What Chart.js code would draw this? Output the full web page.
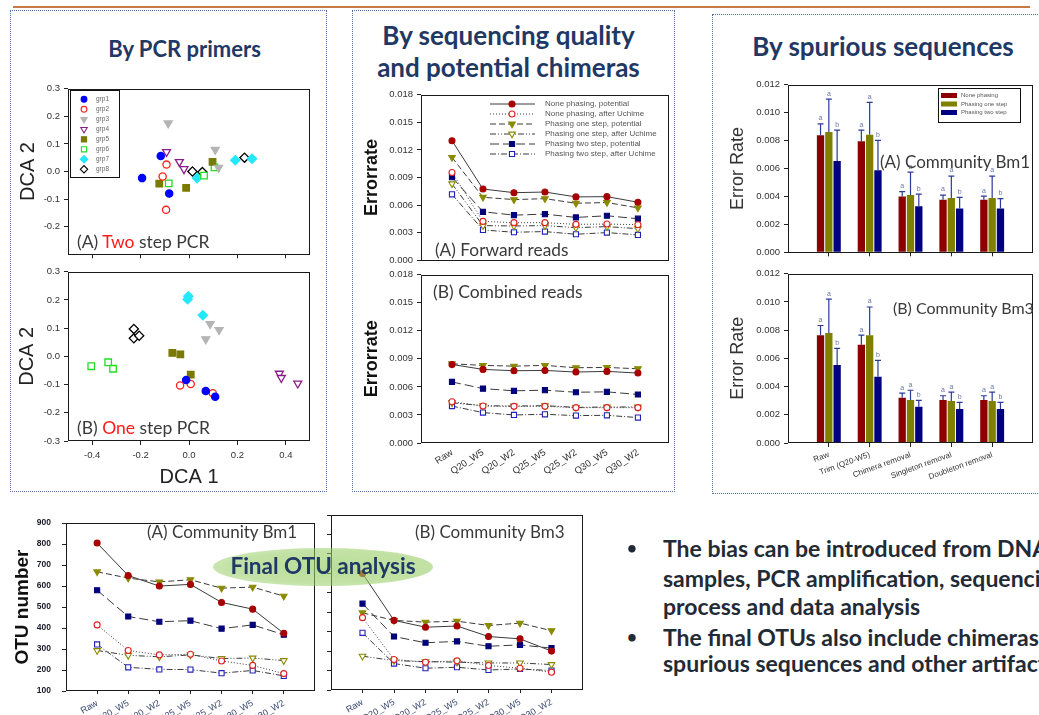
<!DOCTYPE html>
<html><head><meta charset="utf-8">
<script src="https://cdn.jsdelivr.net/npm/chart.js@4.4.1/dist/chart.umd.min.js"></script>
<style>
html,body{margin:0;padding:0;background:#fff;}
body{width:1039px;height:715px;overflow:hidden;position:relative;font-family:Lato,"Open Sans",sans-serif;}
canvas{position:absolute;z-index:1;}
.t{position:absolute;white-space:nowrap;z-index:3;}
.panel{position:absolute;border:1px dotted #4f72a3;z-index:0;}
.title{position:absolute;z-index:3;font-weight:bold;color:#1f3864;text-align:center;white-space:nowrap;}
.ann{position:absolute;z-index:3;white-space:nowrap;color:#3a3a3a;line-height:20px;height:20px;}
.bul{position:absolute;z-index:3;white-space:nowrap;font-weight:bold;color:#222a36;font-size:23px;line-height:28px;height:28px;}
.dot{position:absolute;z-index:3;font-weight:bold;color:#222a36;font-size:17px;line-height:28px;height:28px;}
</style></head><body>
<div style="position:absolute;left:13px;top:6px;width:1017px;height:2px;background:#c77a45;"></div>
<div class="panel" style="left:10px;top:10px;width:315px;height:480px;"></div>
<div class="panel" style="left:352px;top:10px;width:321px;height:480px;"></div>
<div class="panel" style="left:712px;top:14px;width:340px;height:478px;"></div>
<div class="title" style="left:27px;width:315px;top:35px;font-size:22px;line-height:28px;">By PCR primers</div>
<div class="title" style="left:348px;width:321px;top:19px;font-size:26px;line-height:32px;">By sequencing quality<br>and potential chimeras</div>
<div class="title" style="left:712px;width:342px;top:31px;font-size:26px;line-height:30px;">By spurious sequences</div>
<div id="charts"></div>
<div class="ann" style="left:77px;top:232px;font-size:17.5px;">(A) <span style="color:#ff1a1a">Two</span> step PCR</div>
<div class="ann" style="left:77px;top:418px;font-size:17.5px;">(B) <span style="color:#ff1a1a">One</span> step PCR</div>
<div class="ann" style="left:435px;top:240px;font-size:17.3px;">(A) Forward reads</div>
<div class="ann" style="left:433px;top:282px;font-size:17.5px;">(B) Combined reads</div>
<div class="ann" style="left:880px;top:152px;font-size:17px;">(A) Community Bm1</div>
<div class="ann" style="left:893px;top:298px;font-size:16px;">(B) Community Bm3</div>
<div class="ann" style="left:147px;top:522px;font-size:17px;">(A) Community Bm1</div>
<div class="ann" style="left:415px;top:522px;font-size:17px;">(B) Community Bm3</div>
<div style="position:absolute;z-index:2;left:213px;top:548px;width:220px;height:38px;border-radius:50%;background:radial-gradient(ellipse at 55% 50%, rgba(150,205,100,0.66) 0%, rgba(150,205,100,0.58) 60%, rgba(150,205,100,0.32) 100%);"></div>
<div class="t" style="z-index:3;left:213px;width:220px;top:553px;text-align:center;font-weight:bold;font-size:22.5px;line-height:26px;color:#1f3864;">Final OTU analysis</div>
<div class="dot" style="left:627px;top:534px;">•</div>
<div class="bul" style="left:663px;top:534px;">The bias can be introduced from DNA</div>
<div class="bul" style="left:663px;top:564px;">samples, PCR amplification, sequencing</div>
<div class="bul" style="left:663px;top:592px;">process and data analysis</div>
<div class="dot" style="left:627px;top:623px;">•</div>
<div class="bul" style="left:663px;top:623px;">The final OTUs also include chimeras,</div>
<div class="bul" style="left:663px;top:649px;">spurious sequences and other artifacts</div>
<script>
// ================= DATA =================
const dcaGroups = ['grp1','grp2','grp3','grp4','grp5','grp6','grp7','grp8'];
const dcaXTicks = [-0.4,-0.2,0.0,0.2,0.4];
const dcaYTicksA = [0.3,0.2,0.1,0.0,-0.1,-0.2];
const dcaYTicksB = [0.3,0.2,0.1,0.0,-0.1,-0.2,-0.3];
// (A) Two step PCR, one row per group
const twoStepX = [
  [-0.194,-0.117,-0.082],[-0.093,-0.109,-0.095],[-0.086,0.108,0.122],[-0.093,-0.040,-0.021],
  [-0.123,-0.012,0.097],[-0.084,0.062,0.105],[0.033,0.191,0.260],[0.014,0.055,0.229]];
const twoStepY = [
  [-0.024,0.056,-0.080],[0.025,-0.018,-0.139],[0.175,0.079,0.014],[0.071,0.035,0.009],
  [-0.044,-0.059,0.035],[-0.043,-0.015,0.015],[-0.024,0.041,0.046],[0.000,-0.002,0.050]];
// (B) One step PCR
const oneStepX = [
  [-0.012,0.069,0.108],[-0.037,0.007,0.098],[0.087,0.124,0.069],[0.373,0.381,0.449],
  [-0.069,-0.036,0.007],[-0.404,-0.334,-0.314],[-0.003,-0.006,0.057],[-0.228,-0.228,-0.206]];
const oneStepY = [
  [-0.084,-0.123,-0.143],[-0.103,-0.098,-0.131],[0.115,0.094,0.061],[-0.061,-0.076,-0.096],
  [0.012,0.007,-0.065],[-0.035,-0.021,-0.044],[0.213,0.202,0.146],[0.097,0.064,0.073]];

const qualityCats = ['Raw','Q20_W5','Q20_W2','Q25_W5','Q25_W2','Q30_W5','Q30_W2'];
const errSeriesNames = ['None phasing, potential','None phasing, after Uchime','Phasing one step, potential','Phasing one step, after Uchime','Phasing two step, potential','Phasing two step, after Uchime'];
const errTicks = [0,0.003,0.006,0.009,0.012,0.015,0.018];
const fwdNonePot = [0.01300,0.00775,0.00735,0.00742,0.00689,0.00692,0.00631];
const fwdNoneUch = [0.00954,0.00423,0.00409,0.00409,0.00391,0.00394,0.00387];
const fwdOnePot  = [0.01119,0.00685,0.00660,0.00670,0.00620,0.00628,0.00570];
const fwdOneUch  = [0.00832,0.00377,0.00373,0.00377,0.00355,0.00366,0.00344];
const fwdTwoPot  = [0.00904,0.00527,0.00491,0.00502,0.00466,0.00484,0.00452];
const fwdTwoUch  = [0.00717,0.00330,0.00305,0.00312,0.00283,0.00301,0.00276];
const combNonePot = [0.00840,0.00787,0.00773,0.00776,0.00759,0.00766,0.00748];
const combNoneUch = [0.00441,0.00395,0.00392,0.00392,0.00378,0.00378,0.00378];
const combOnePot  = [0.00847,0.00830,0.00822,0.00830,0.00805,0.00808,0.00794];
const combOneUch  = [0.00430,0.00399,0.00395,0.00399,0.00381,0.00385,0.00385];
const combTwoPot  = [0.00653,0.00582,0.00558,0.00565,0.00543,0.00547,0.00519];
const combTwoUch  = [0.00395,0.00325,0.00300,0.00307,0.00293,0.00296,0.00272];

const stepCats = ['Raw','Trim (Q20-W5)','Chimera removal','Singleton removal','Doubleton removal'];
const phasingNames = ['None phasing','Phasing one step','Phasing two step'];
const barTicks = [0,0.002,0.004,0.006,0.008,0.010,0.012];
const bm1None    = [0.00838,0.00795,0.00400,0.00376,0.00376];
const bm1NoneErr = [0.00920,0.00875,0.00435,0.00410,0.00402];
const bm1One     = [0.00861,0.00842,0.00410,0.00388,0.00388];
const bm1OneErr  = [0.01097,0.01073,0.00574,0.00546,0.00546];
const bm1Two     = [0.00654,0.00588,0.00329,0.00313,0.00313];
const bm1TwoErr  = [0.00875,0.00802,0.00416,0.00393,0.00384];
const bm3None    = [0.00763,0.00697,0.00320,0.00304,0.00304];
const bm3NoneErr = [0.00833,0.00765,0.00353,0.00335,0.00335];
const bm3One     = [0.00779,0.00763,0.00304,0.00297,0.00297];
const bm3OneErr  = [0.01020,0.00964,0.00374,0.00360,0.00360];
const bm3Two     = [0.00552,0.00470,0.00257,0.00241,0.00241];
const bm3TwoErr  = [0.00671,0.00585,0.00302,0.00288,0.00288];
const sigNone = ['a','a','a','a','a'];
const sigOne  = ['a','a','a','a','a'];
const sigTwo  = ['b','b','b','b','b'];

const otuTicks = [100,200,300,400,500,600,700,800,900];
const otuBm3Ticks = [0,100,200,300,400,500,600,700,800,900];
const bm1OtuNonePot = [805,650,600,608,522,490,375];
const bm1OtuNoneUch = [415,293,272,275,243,222,183];
const bm1OtuOnePot  = [668,638,620,630,590,595,552];
const bm1OtuOneUch  = [293,270,263,272,255,257,245];
const bm1OtuTwoPot  = [580,455,430,435,397,415,368];
const bm1OtuTwoUch  = [322,213,203,202,185,198,172];
const bm3OtuNonePot = [599,358,323,329,275,263,200];
const bm3OtuNoneUch = [372,157,143,150,126,112,91];
const bm3OtuOnePot  = [397,358,349,354,332,344,305];
const bm3OtuOneUch  = [174,151,146,143,139,139,131];
const bm3OtuTwoPot  = [444,275,243,250,225,232,215];
const bm3OtuTwoUch  = [294,136,112,117,103,108,100];

// ================= STYLES / HELPERS =================
const AX = '"Liberation Sans", Arial, sans-serif';
const grpStyle = [
  {shape:'circle', color:'#0000ff', fill:true, r:3.6},
  {shape:'circle', color:'#ff2020', fill:false, r:3.6},
  {shape:'triangle', color:'#b4b4b4', fill:true, r:4.6, rot:180},
  {shape:'triangle', color:'#8b1c8b', fill:false, r:4.6, rot:180},
  {shape:'rect', color:'#7a7a00', fill:true, r:4.6},
  {shape:'rect', color:'#22dd22', fill:false, r:4.6},
  {shape:'rectRot', color:'#22e8f8', fill:true, r:4.6},
  {shape:'rectRot', color:'#000000', fill:false, r:4.6}
];
const lineStyles = [
  {shape:'circle', color:'#a80000', fill:true, r:3, dash:[]},
  {shape:'circle', color:'#e02020', fill:false, r:3, dash:[1,2]},
  {shape:'triangle', color:'#8a8a00', fill:true, r:3.8, rot:180, dash:[6,3]},
  {shape:'triangle', color:'#8a8a00', fill:false, r:3.8, rot:180, dash:[6,2,1,2,1,2]},
  {shape:'rect', color:'#00007a', fill:true, r:3.6, dash:[9,4]},
  {shape:'rect', color:'#2222bb', fill:false, r:3.6, dash:[6,2,1,2]}
];
const barColors = ['#8b0000','#808000','#000080'];

function drawMarker(ctx, st, x, y, r) {
  ctx.save(); ctx.beginPath();
  const rad = (st.rot||0)*Math.PI/180;
  if (st.shape==='circle') ctx.arc(x,y,r,0,Math.PI*2);
  else if (st.shape==='rect') { const s=Math.SQRT1_2*r; ctx.rect(x-s,y-s,2*s,2*s); }
  else if (st.shape==='rectRot') { ctx.moveTo(x-r,y); ctx.lineTo(x,y-r); ctx.lineTo(x+r,y); ctx.lineTo(x,y+r); ctx.closePath(); }
  else if (st.shape==='triangle') { let a=rad; ctx.moveTo(x+Math.sin(a)*r,y-Math.cos(a)*r); a+=2*Math.PI/3; ctx.lineTo(x+Math.sin(a)*r,y-Math.cos(a)*r); a+=2*Math.PI/3; ctx.lineTo(x+Math.sin(a)*r,y-Math.cos(a)*r); ctx.closePath(); }
  ctx.fillStyle = st.fill ? st.color : '#ffffff'; ctx.fill();
  ctx.strokeStyle = st.color; ctx.lineWidth = 1.1; ctx.stroke(); ctx.restore();
}

const framePlugin = { id:'frame', afterDraw(c){ const a=c.chartArea, x=c.ctx; x.save(); x.strokeStyle='#1a1a1a'; x.lineWidth=1;
  x.strokeRect(Math.round(a.left)+0.5, Math.round(a.top)+0.5, Math.round(a.right-a.left)-1, Math.round(a.bottom-a.top)-1); x.restore(); } };

function yAxis(ticks, o) {
  return {
    type:'linear', min:o.min, max:o.max,
    afterBuildTicks: s => { s.ticks = ticks.map(v => ({value:v})); },
    ticks:{display:o.labels!==false, callback:v=>o.fmt?o.fmt(v):String(v), font:{family:AX,size:o.fs||9,weight:o.bold?'bold':'normal'}, color:o.tc||'#333', padding:o.pad||4},
    grid:{drawOnChartArea:false, drawTicks:true, tickLength:4, color:'#222'},
    border:{display:false},
    title: o.title ? {display:true, text:o.title, color:o.titleColor||'#222', font:{family:AX,size:o.titleSize,weight:o.titleBold?'bold':'normal'}, padding:{top:o.tpad,bottom:0}} : {display:false}
  };
}
function xCatAxis(cats, o) {
  const n = cats.length;
  return {
    type:'linear', min:0, max:n+1, offset:false,
    afterBuildTicks: s => { s.ticks = cats.map((c,i)=>({value:i+1})); },
    ticks:{display:!!o.labels, autoSkip:false, maxRotation:o.rot||0, minRotation:o.rot||0, callback:v=>cats[Math.round(v)-1]||'', font:{family:AX,size:o.fs||9}, color:o.tc||'#333', padding:o.pad||3},
    grid:{offset:false, drawOnChartArea:false, drawTicks:(o.tl||0)>0, tickLength:o.tl||0, color:'#222'},
    border:{display:false}
  };
}
function makeChart(box, plot, cfg) {
  const cv = document.createElement('canvas');
  document.getElementById('charts').appendChild(cv);
  cv.width = box.w; cv.height = box.h;
  cv.style.left = box.l+'px'; cv.style.top = box.t+'px'; cv.style.width = box.w+'px'; cv.style.height = box.h+'px';
  const o = cfg.options;
  o.responsive = false; o.animation = false; o.devicePixelRatio = 1; o.maintainAspectRatio = false;
  o.layout = {padding:{top:plot.t-box.t, right:box.l+box.w-plot.r, left:0, bottom:0}};
  const xh = box.t+box.h-plot.b, yw = plot.l-box.l;
  o.scales.x.afterFit = s => { s.height = xh; };
  o.scales.y.afterFit = s => { s.width = yw; };
  o.plugins = Object.assign({legend:{display:false}, tooltip:{enabled:false}}, o.plugins||{});
  cfg.plugins = [framePlugin].concat(cfg.plugins||[]);
  return new Chart(cv, cfg);
}

// ---------- DCA scatter ----------
function dcaSets(X, Y) {
  return dcaGroups.map((g,i)=>{ const st=grpStyle[i]; return {
    label:g, data:X[i].map((x,j)=>({x:x,y:Y[i][j]})),
    pointStyle:st.shape, pointRotation:st.rot||0, pointRadius:st.r,
    pointBackgroundColor:st.fill?st.color:'#ffffff', pointBorderColor:st.color, pointBorderWidth:1.3, showLine:false
  };});
}
function dcaLegend(box) {
  return { id:'dcaLegend', afterDraw(c){ const ctx=c.ctx, ox=box.l, oy=box.t; ctx.save();
    ctx.strokeStyle='#111'; ctx.lineWidth=1; ctx.strokeRect(70.5-ox, 90.5-oy, 49, 87);
    ctx.font='6.5px '+AX; ctx.fillStyle='#666'; ctx.textBaseline='middle';
    dcaGroups.forEach((g,i)=>{ const y=99.3+i*10-oy; drawMarker(ctx, grpStyle[i], 84-ox, y, grpStyle[i].r*0.8); ctx.fillText(g, 96-ox, y); });
    ctx.restore(); } };
}
const dcaBoxA = {l:12,t:79,w:304,h:185};
makeChart(dcaBoxA, {l:68,t:87,r:312,b:256}, {
  type:'scatter', data:{datasets:dcaSets(twoStepX,twoStepY)},
  options:{scales:{
    x:Object.assign(yAxis(dcaXTicks,{min:-0.5,max:0.5,labels:false}), {position:'bottom'}),
    y:yAxis(dcaYTicksA,{min:-0.3,max:0.3,fmt:v=>v.toFixed(1),fs:9.5,title:'DCA 2',titleSize:20,tpad:4})
  }},
  plugins:[dcaLegend(dcaBoxA)]
});
const dcaBoxB = {l:12,t:262,w:304,h:227};
const dcaBX = yAxis(dcaXTicks,{min:-0.5,max:0.5,fmt:v=>v.toFixed(1),fs:9.5,pad:5});
dcaBX.position='bottom';
dcaBX.title={display:true,text:'DCA 1',color:'#222',font:{family:AX,size:20},padding:{top:0,bottom:0}};
makeChart(dcaBoxB, {l:68,t:270,r:312,b:441}, {
  type:'scatter', data:{datasets:dcaSets(oneStepX,oneStepY)},
  options:{scales:{ x:dcaBX,
    y:yAxis(dcaYTicksB,{min:-0.3,max:0.3,fmt:v=>v.toFixed(1),fs:9.5,title:'DCA 2',titleSize:20,tpad:3})
  }}
});

// ---------- Error rate line charts ----------
function lineSets(list, names) {
  return list.map((vals,i)=>{ const st=lineStyles[i]; return {
    label:names[i], data:vals.map((v,j)=>({x:j+1,y:v})),
    borderColor:'#3a3a3a', borderWidth:1, borderDash:st.dash, tension:0, fill:false,
    pointStyle:st.shape, pointRotation:st.rot||0, pointRadius:st.r,
    pointBackgroundColor:st.fill?st.color:'#ffffff', pointBorderColor:st.color, pointBorderWidth:1.1
  };});
}
function errLegend(box) {
  return { id:'errLegend', afterDraw(c){ const ctx=c.ctx, ox=box.l, oy=box.t; ctx.save();
    ctx.font='8px '+AX; ctx.textBaseline='middle';
    errSeriesNames.forEach((n,i)=>{ const y=104+i*10-oy, st=lineStyles[i];
      ctx.save(); ctx.strokeStyle='#3a3a3a'; ctx.lineWidth=1; ctx.setLineDash(st.dash); ctx.beginPath(); ctx.moveTo(490-ox,y); ctx.lineTo(535-ox,y); ctx.stroke(); ctx.restore();
      drawMarker(ctx, st, 512-ox, y, st.r);
      ctx.fillStyle='#555'; ctx.fillText(n, 545-ox, y); });
    ctx.restore(); } };
}
const errBoxA = {l:356,t:85,w:318,h:185};
makeChart(errBoxA, {l:421,t:93,r:672,b:261}, {
  type:'line', data:{datasets:lineSets([fwdNonePot,fwdNoneUch,fwdOnePot,fwdOneUch,fwdTwoPot,fwdTwoUch], errSeriesNames)},
  options:{scales:{
    x:xCatAxis(qualityCats,{labels:false}),
    y:yAxis(errTicks,{min:0,max:0.018,fmt:v=>v.toFixed(3),fs:9.5,title:'Errorrate',titleSize:18,titleBold:true,titleColor:'#111',tpad:5})
  }},
  plugins:[errLegend(errBoxA)]
});
makeChart({l:356,t:265,w:318,h:225}, {l:421,t:273,r:672,b:443}, {
  type:'line', data:{datasets:lineSets([combNonePot,combNoneUch,combOnePot,combOneUch,combTwoPot,combTwoUch], errSeriesNames)},
  options:{scales:{
    x:xCatAxis(qualityCats,{labels:true,rot:33,fs:9.5,pad:4,tc:'#333'}),
    y:yAxis(errTicks,{min:0,max:0.018,fmt:v=>v.toFixed(3),fs:9.5,title:'Errorrate',titleSize:18,titleBold:true,titleColor:'#111',tpad:5})
  }}
});

// ---------- Bar charts with error bars ----------
const errBarPlugin = { id:'errbars', afterDatasetsDraw(c){ const ctx=c.ctx, ys=c.scales.y;
  c.data.datasets.forEach((ds,i)=>{ const meta=c.getDatasetMeta(i);
    meta.data.forEach((bar,j)=>{ const yt=ys.getPixelForValue(ds.errTop[j]);
      ctx.save(); ctx.strokeStyle='#2b3a9a'; ctx.lineWidth=1.2; ctx.beginPath();
      ctx.moveTo(bar.x,bar.y); ctx.lineTo(bar.x,yt); ctx.moveTo(bar.x-3,yt); ctx.lineTo(bar.x+3,yt); ctx.stroke();
      ctx.fillStyle='#6a78a8'; ctx.font='7px '+AX; ctx.textAlign='center'; ctx.textBaseline='bottom';
      ctx.fillText(ds.sig[j], bar.x, yt-2); ctx.restore(); }); }); } };
function barSets(vals, errs, sigs) {
  return vals.map((v,i)=>({label:phasingNames[i], data:v.map((y,j)=>({x:j+1,y:y})), backgroundColor:barColors[i], borderWidth:0,
    errTop:errs[i], sig:sigs[i], barPercentage:0.88, categoryPercentage:0.61}));
}
function barLegend(box) {
  return { id:'barLegend', afterDraw(c){ const ctx=c.ctx, ox=box.l, oy=box.t; ctx.save();
    ctx.fillStyle='#fff'; ctx.fillRect(938-ox,88-oy,82,34);
    ctx.strokeStyle='#111'; ctx.lineWidth=1; ctx.strokeRect(938.5-ox,88.5-oy,82,34);
    ctx.font='6px '+AX; ctx.textBaseline='middle';
    phasingNames.forEach((n,i)=>{ const y=95.5+i*8.5-oy; ctx.fillStyle=barColors[i]; ctx.fillRect(941-ox,y-2.5,16,5); ctx.fillStyle='#555'; ctx.fillText(n,961-ox,y); });
    ctx.restore(); } };
}
function barX(labels) {
  const ax = xCatAxis(stepCats,{labels:labels,rot:20,fs:8,pad:3,tl:4,tc:'#333'});
  ax.grid.drawTicks = true; ax.grid.tickLength = 4;
  return ax;
}
const barBoxA = {l:716,t:75,w:323,h:187};
makeChart(barBoxA, {l:788,t:83,r:1033,b:253}, {
  type:'bar', data:{datasets:barSets([bm1None,bm1One,bm1Two],[bm1NoneErr,bm1OneErr,bm1TwoErr],[sigNone,sigOne,sigTwo])},
  options:{scales:{ x:barX(false),
    y:yAxis(barTicks,{min:0,max:0.012,fmt:v=>v.toFixed(3),fs:9.5,title:'Error Rate',titleSize:18,titleColor:'#333',tpad:11})
  }},
  plugins:[errBarPlugin, barLegend(barBoxA)]
});
makeChart({l:716,t:264,w:323,h:226}, {l:788,t:272,r:1033,b:443}, {
  type:'bar', data:{datasets:barSets([bm3None,bm3One,bm3Two],[bm3NoneErr,bm3OneErr,bm3TwoErr],[sigNone,sigOne,sigTwo])},
  options:{scales:{ x:barX(true),
    y:yAxis(barTicks,{min:0,max:0.012,fmt:v=>v.toFixed(3),fs:9.5,title:'Error Rate',titleSize:18,titleColor:'#333',tpad:11})
  }},
  plugins:[errBarPlugin]
});

// ---------- OTU number charts ----------
makeChart({l:5,t:507,w:315,h:208}, {l:66,t:515,r:315,b:691}, {
  type:'line', data:{datasets:lineSets([bm1OtuNonePot,bm1OtuNoneUch,bm1OtuOnePot,bm1OtuOneUch,bm1OtuTwoPot,bm1OtuTwoUch], errSeriesNames)},
  options:{scales:{
    x:xCatAxis(qualityCats,{labels:true,rot:30,fs:9,pad:4,tl:3,tc:'#3a4670'}),
    y:yAxis(otuTicks,{min:100,max:900,fs:8.5,bold:true,tc:'#1a1a2a',pad:11,title:'OTU number',titleSize:19,titleBold:true,titleColor:'#111',tpad:6})
  }}
});
makeChart({l:322,t:507,w:268,h:208}, {l:331,t:515,r:583,b:690}, {
  type:'line', data:{datasets:lineSets([bm3OtuNonePot,bm3OtuNoneUch,bm3OtuOnePot,bm3OtuOneUch,bm3OtuTwoPot,bm3OtuTwoUch], errSeriesNames)},
  options:{scales:{
    x:xCatAxis(qualityCats,{labels:true,rot:30,fs:9,pad:4,tl:3,tc:'#3a4670'}),
    y:yAxis(otuBm3Ticks,{min:0,max:900,labels:false})
  }}
});
</script>
</body></html>
